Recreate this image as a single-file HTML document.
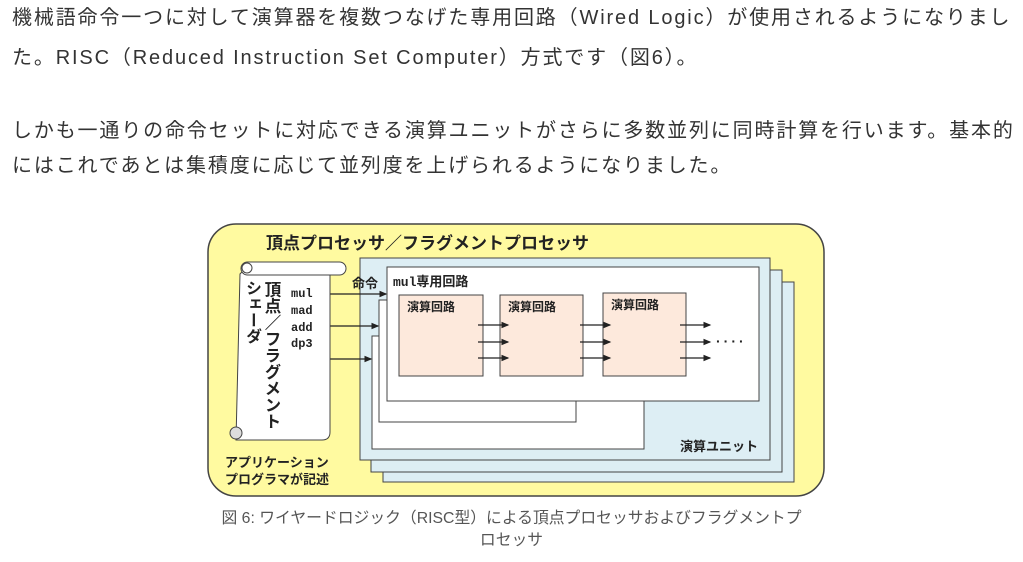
<!DOCTYPE html>
<html><head><meta charset="utf-8"><style>
body{margin:0;width:1023px;height:562px;background:#fff;overflow:hidden;position:relative;font-family:"Liberation Sans","Noto Sans CJK JP",sans-serif;}
.t{position:absolute;left:12px;white-space:nowrap;font-size:20px;color:#333;letter-spacing:1.85px;line-height:24px;}
.cap{position:absolute;left:0;width:1023px;text-align:center;font-size:15.8px;color:#555;line-height:20px;}
svg text{font-family:"Liberation Sans","Noto Sans CJK JP",sans-serif;}
svg text.m{font-family:"Liberation Mono",monospace;}
</style></head><body>
<div class="t" style="top:6px">機械語命令一つに対して演算器を複数つなげた専用回路（Wired Logic）が使用されるようになりまし</div>
<div class="t" style="top:46px">た。RISC（Reduced Instruction Set Computer）方式です（図6）。</div>
<div class="t" style="top:119px">しかも一通りの命令セットに対応できる演算ユニットがさらに多数並列に同時計算を行います。基本的</div>
<div class="t" style="top:154px">にはこれであとは集積度に応じて並列度を上げられるようになりました。</div>

<svg style="position:absolute;left:0;top:0" width="1023" height="562">
<defs><marker id="a" markerWidth="6" markerHeight="6" refX="5" refY="3" orient="auto"><path d="M0,0.5 L6,3 L0,5.5z" fill="#222"/></marker></defs>
<rect x="208" y="224" width="616" height="272" rx="28" fill="#fffaa0" stroke="#444" stroke-width="1.5"/>
<text x="266" y="249" font-size="17" font-weight="bold" fill="#222">頂点プロセッサ／フラグメントプロセッサ</text>
<rect x="383" y="282" width="411" height="200" fill="#ddeef4" stroke="#444"/>
<rect x="371" y="270" width="411" height="202" fill="#ddeef4" stroke="#444"/>
<rect x="360" y="258" width="410" height="202" fill="#ddeef4" stroke="#444"/>
<text x="680" y="451" font-size="13" font-weight="bold" fill="#222">演算ユニット</text>
<rect x="372" y="336" width="272" height="113" fill="#fff" stroke="#444"/>
<rect x="379" y="300" width="197" height="122" fill="#fff" stroke="#444"/>
<rect x="387" y="267" width="372" height="134" fill="#fff" stroke="#444"/>
<text x="393" y="286" font-size="13" font-weight="bold" fill="#222"><tspan style="font-family:'Liberation Mono',monospace">mul</tspan>専用回路</text>
<g fill="#fde9dc" stroke="#444">
<rect x="399" y="295" width="84" height="81"/>
<rect x="500" y="295" width="83" height="81"/>
<rect x="603" y="293" width="83" height="83"/>
</g>
<g font-size="12" font-weight="bold" fill="#222">
<text x="407" y="311">演算回路</text><text x="508" y="311">演算回路</text><text x="611" y="309">演算回路</text>
</g>
<g stroke="#222" stroke-width="1.3" marker-end="url(#a)">
<line x1="478" y1="325" x2="508" y2="325"/><line x1="478" y1="342" x2="508" y2="342"/><line x1="478" y1="358" x2="508" y2="358"/>
<line x1="580" y1="325" x2="610" y2="325"/><line x1="580" y1="342" x2="610" y2="342"/><line x1="580" y1="358" x2="610" y2="358"/>
<line x1="680" y1="325" x2="710" y2="325"/><line x1="680" y1="342" x2="710" y2="342"/><line x1="680" y1="358" x2="710" y2="358"/>
<line x1="325" y1="294" x2="386" y2="294"/><line x1="325" y1="326" x2="378" y2="326"/><line x1="325" y1="359" x2="371" y2="359"/>
</g>
<text x="716" y="346" font-size="14" font-weight="bold" fill="#222" letter-spacing="3">····</text>
<text x="352" y="288" font-size="13" font-weight="bold" fill="#222">命令</text>
<path d="M246,268 L330,268 L330,432 Q330,440 322,440 L236,440 L240,274 Z" fill="#fff" stroke="#444"/>
<rect x="241" y="262" width="105" height="13" rx="6.5" fill="#fff" stroke="#444"/>
<circle cx="247" cy="268" r="5" fill="#fff" stroke="#444"/>
<circle cx="236" cy="433" r="6" fill="#ddd" stroke="#444"/>
<g font-size="12" font-weight="bold" fill="#222">
<text class="m" x="291" y="297">mul</text><text class="m" x="291" y="314">mad</text><text class="m" x="291" y="331">add</text><text class="m" x="291" y="347">dp3</text>
</g>
<text x="225" y="467" font-size="13" font-weight="bold" fill="#222">アプリケーション</text>
<text x="225" y="484" font-size="13" font-weight="bold" fill="#222">プログラマが記述</text>
</svg>
<div style="position:absolute;left:242px;top:280px;writing-mode:vertical-rl;font-size:16px;font-weight:bold;color:#222;line-height:18px;">シェーダ</div>
<div style="position:absolute;left:261px;top:281px;writing-mode:vertical-rl;font-size:16.5px;font-weight:bold;color:#222;line-height:19px;">頂点／フラグメント</div>
<div class="cap" style="top:509px">図 6: ワイヤードロジック（RISC型）による頂点プロセッサおよびフラグメントプ</div>
<div class="cap" style="top:531px">ロセッサ</div>
</body></html>
